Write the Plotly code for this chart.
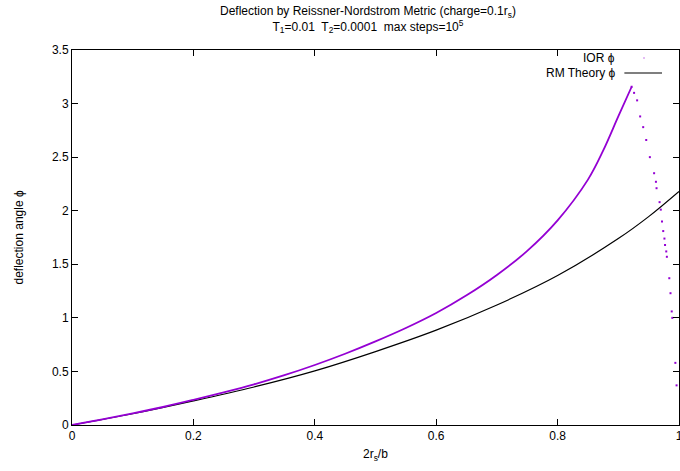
import plotly.graph_objects as go

# RM theory curve (black line)
theory_x = [0.0, 0.1, 0.2, 0.3, 0.4, 0.5, 0.6, 0.7, 0.8, 0.9, 0.95, 1.0]
theory_y = [0.0, 0.105, 0.225, 0.355, 0.505, 0.685, 0.885, 1.12, 1.395, 1.74, 1.945, 2.18]

# IOR simulation, dense rising part
ior_rise_x = [0.0, 0.05, 0.1, 0.15, 0.2, 0.25, 0.3, 0.35, 0.4, 0.45, 0.5, 0.55, 0.6,
              0.65, 0.7, 0.75, 0.8, 0.85, 0.875, 0.9, 0.922]
ior_rise_y = [0.0, 0.052, 0.108, 0.168, 0.235, 0.305, 0.38, 0.465, 0.56, 0.665, 0.78,
              0.905, 1.045, 1.21, 1.40, 1.625, 1.91, 2.29, 2.56, 2.88, 3.157]

# IOR simulation, sparse falling dots
ior_fall_x = [0.922, 0.926, 0.931, 0.936, 0.941, 0.946, 0.952, 0.959, 0.962, 0.963, 0.968,
              0.970, 0.972, 0.974, 0.976, 0.977, 0.979, 0.980, 0.984, 0.986, 0.988,
              0.989, 0.994, 0.996]
ior_fall_y = [3.157, 3.10, 3.03, 2.88, 2.78, 2.66, 2.50, 2.35, 2.27, 2.21, 2.08,
              2.01, 1.90, 1.81, 1.74, 1.68, 1.62, 1.57, 1.37, 1.23, 1.06,
              1.00, 0.58, 0.37]

x_ticks = [0, 0.2, 0.4, 0.6, 0.8, 1]
x_tick_labels = ["0", "0.2", "0.4", "0.6", "0.8", "1"]
y_ticks = [0, 0.5, 1, 1.5, 2, 2.5, 3, 3.5]
y_tick_labels = ["0", "0.5", "1", "1.5", "2", "2.5", "3", "3.5"]

PURPLE = "#9400D3"
FONT = "Liberation Sans, Arial, sans-serif"

fig = go.Figure()
fig.add_trace(go.Scatter(x=theory_x, y=theory_y, mode="lines", line=dict(color="black", width=1.2,
                         shape="spline"), showlegend=False, hoverinfo="skip"))
fig.add_trace(go.Scatter(x=ior_rise_x, y=ior_rise_y, mode="lines", line=dict(color=PURPLE, width=1.8,
                         shape="spline"), showlegend=False))
fig.add_trace(go.Scatter(x=ior_fall_x, y=ior_fall_y, mode="markers",
                         marker=dict(color=PURPLE, size=2, symbol="square"), showlegend=False))

axis_common = dict(showgrid=False, zeroline=False, showline=True, linecolor="black", linewidth=1,
                   mirror="allticks", ticks="inside", ticklen=6, tickcolor="black", tickwidth=1,
                   automargin=False, ticklabeloverflow="allow",
                   tickfont=dict(family=FONT, size=12, color="black"))

fig.update_xaxes(range=[0, 1], tickvals=x_ticks, ticktext=x_tick_labels, **axis_common)
fig.update_yaxes(range=[0, 3.5], tickvals=y_ticks, ticktext=y_tick_labels, **axis_common)

annotations = [
    dict(text="Deflection by Reissner-Nordstrom Metric (charge=0.1r<sub>s</sub>)<br>"
              "T<sub>1</sub>=0.01  T<sub>2</sub>=0.0001  max steps=10<sup>5</sup>",
         xref="paper", yref="paper", x=0.488, y=1.0, yshift=48, xanchor="center", yanchor="top",
         showarrow=False, font=dict(family=FONT, size=12, color="black")),
    dict(text="deflection angle ϕ", xref="paper", yref="paper", x=0, xshift=-54, y=0.5,
         textangle=-90, showarrow=False, font=dict(family=FONT, size=12, color="black"),
         xanchor="center", yanchor="middle"),
    dict(text="2r<sub>s</sub>/b", xref="paper", yref="paper", x=0.5, y=0, yshift=-30,
         showarrow=False, font=dict(family=FONT, size=12, color="black"),
         xanchor="center", yanchor="middle"),
    dict(text="IOR ϕ", xref="paper", yref="paper", x=0.898, y=0.9787, xanchor="right",
         yanchor="middle", showarrow=False, font=dict(family=FONT, size=12, color="black")),
    dict(text="RM Theory ϕ", xref="paper", yref="paper", x=0.898, y=0.9387, xanchor="right",
         yanchor="middle", showarrow=False, font=dict(family=FONT, size=12, color="black")),
]

shapes = [
    dict(type="line", xref="paper", yref="paper", x0=0.910, x1=0.972, y0=0.9387, y1=0.9387,
         line=dict(color="black", width=1.2)),
    dict(type="rect", xref="paper", yref="paper", x0=0.9415, x1=0.9432, y0=0.9775, y1=0.9800,
         line=dict(width=0), fillcolor=PURPLE),
]

fig.update_layout(
    width=680, height=471,
    margin=dict(l=72, r=1, t=50, b=46, autoexpand=False),
    paper_bgcolor="white", plot_bgcolor="white",
    annotations=annotations, shapes=shapes,
    font=dict(family=FONT, size=12, color="black"),
    hovermode=False,
)

fig.write_html("out.html", config={"displayModeBar": False, "staticPlot": True},
               post_script="document.body.style.margin='0px';document.body.style.overflow='hidden';")
